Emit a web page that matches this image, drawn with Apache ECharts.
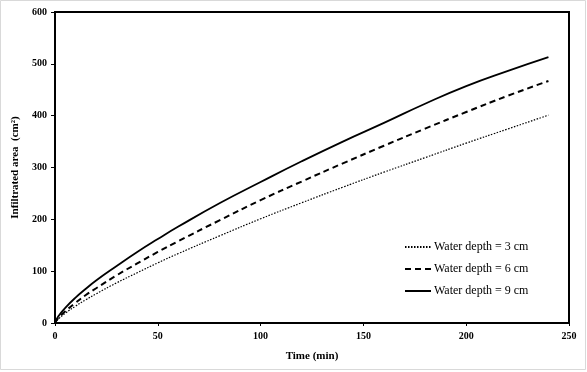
<!DOCTYPE html>
<html>
<head>
<meta charset="utf-8">
<script src="https://cdn.jsdelivr.net/npm/echarts@6/dist/echarts.min.js"></script>
<style>
  html, body { margin: 0; padding: 0; background: #fff; }
  #chart { width: 587px; height: 372px; }
</style>
</head>
<body>
<div id="chart"></div>
<script>
// time (min)
const times = [0, 1, 2, 5, 10, 15, 20, 30, 40, 50, 60, 80, 100, 120, 140, 160, 180, 200, 220, 240];
// infiltrated area (cm2)
const depth3 = [0, 5.3, 9.1, 18.8, 32.6, 44.8, 56.3, 77.5, 97, 116, 134, 168, 201, 232, 262, 291, 319, 347, 374, 401];
const depth6 = [0, 6.5, 11.2, 22.8, 39, 54, 67, 92, 115, 137, 158, 198, 237, 273, 308, 342, 375, 407, 438, 467];
const depth9 = [0, 8.9, 14.9, 29.3, 49, 66, 82, 110, 137, 162, 186, 231, 272, 312, 350, 386, 423, 457, 486, 513];

const seriesNames = ['Water depth = 3 cm', 'Water depth = 6 cm', 'Water depth = 9 cm'];

function pairs(ys) {
    return times.map(function (t, i) { return [t, ys[i]]; });
}

var chartDom = document.getElementById('chart');
var myChart = echarts.init(chartDom, null, { renderer: 'canvas' });

const serif = '"Liberation Serif", "DejaVu Serif", serif';
const labelStyle = { color: '#000', fontFamily: serif, fontWeight: 'bold', fontSize: 10 };

var option = {
    animation: false,
    backgroundColor: '#fff',
    graphic: [{
        type: 'rect',
        shape: { x: 0.5, y: 0.5, width: 585, height: 369 },
        style: { fill: 'none', stroke: '#d9d9d9', lineWidth: 1 },
        silent: true
    }],
    grid: {
        left: 55, right: 18, top: 12, bottom: 49,
        show: true, borderColor: '#000', borderWidth: 2, backgroundColor: 'transparent'
    },
    legend: {
        orient: 'vertical',
        left: 399, top: 236,
        itemWidth: 26, itemHeight: 10, itemGap: 10,
        itemStyle: { opacity: 0 },
        textStyle: { color: '#000', fontFamily: serif, fontSize: 12, padding: [0, 0, 0, -2] },
        data: seriesNames
    },
    xAxis: {
        type: 'value',
        min: 0, max: 250, interval: 50,
        name: 'Time (min)',
        nameLocation: 'middle',
        nameGap: 28,
        nameTextStyle: { color: '#000', fontFamily: serif, fontWeight: 'bold', fontSize: 11 },
        axisLine: { show: true, onZero: false, lineStyle: { color: '#000', width: 2 } },
        axisTick: { show: true, length: 3, lineStyle: { color: '#000' } },
        axisLabel: Object.assign({ margin: 8 }, labelStyle),
        splitLine: { show: false }
    },
    yAxis: {
        type: 'value',
        min: 0, max: 600, interval: 100,
        name: 'Infiltrated area  (cm²)',
        nameLocation: 'middle',
        nameGap: 30,
        nameTextStyle: { color: '#000', fontFamily: serif, fontWeight: 'bold', fontSize: 11 },
        axisLine: { show: true, lineStyle: { color: '#000', width: 2 } },
        axisTick: { show: true, length: 4, lineStyle: { color: '#000' } },
        axisLabel: Object.assign({ margin: 8 }, labelStyle),
        splitLine: { show: false }
    },
    series: [
        {
            name: seriesNames[0], type: 'line', data: pairs(depth3),
            smooth: true, symbol: 'none', showSymbol: false,
            lineStyle: { color: '#000', width: 1.2, type: [1.5, 1.5] },
            itemStyle: { color: '#000' }
        },
        {
            name: seriesNames[1], type: 'line', data: pairs(depth6),
            smooth: true, symbol: 'none', showSymbol: false,
            lineStyle: { color: '#000', width: 2, type: [6, 4] },
            itemStyle: { color: '#000' }
        },
        {
            name: seriesNames[2], type: 'line', data: pairs(depth9),
            smooth: true, symbol: 'none', showSymbol: false,
            lineStyle: { color: '#000', width: 1.8, type: 'solid' },
            itemStyle: { color: '#000' }
        }
    ]
};
option && myChart.setOption(option);
</script>
</body>
</html>
